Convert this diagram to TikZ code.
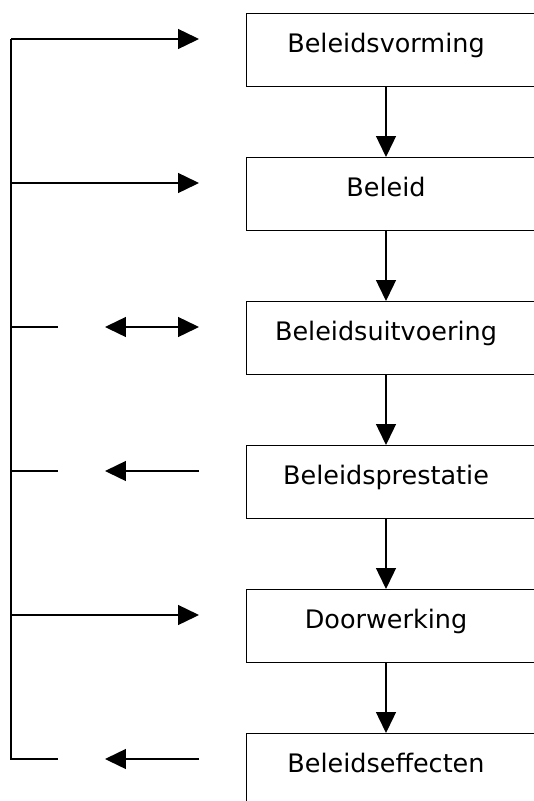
\documentclass[tikz,border=0pt]{standalone}
\usepackage{fontspec}
\setmainfont{DejaVu Sans}
\usetikzlibrary{arrows.meta}
\tikzset{
    blok/.style={
        draw,
        rectangle,
        line width=0.8pt,
        anchor=north west,
        minimum width=6.4cm,
        minimum height=1.46cm,
        inner sep=0pt
    },
    tekst/.style={
        anchor=base,
        inner sep=0pt,
        font=\fontsize{14.5}{16}\selectfont
    },
    lijn/.style={line width=0.8pt},
    pijl/.style={
        line width=0.8pt,
        -{Triangle[length=0.42cm, width=0.4cm]}
    },
    dubbelpijl/.style={
        line width=0.8pt,
        {Triangle[length=0.42cm, width=0.4cm]}-{Triangle[length=0.42cm, width=0.4cm]}
    }
}

\begin{document}
\begin{tikzpicture}[x=0.02cm, y=-0.02cm]
  \useasboundingbox (0,0) rectangle (534,801);
  \clip (0,0) rectangle (534,801);

  % Boxes on the right (cut off at the right edge)
  \node[blok] (b1) at (246,13) {};
  \node[tekst] (t1) at (386,52) {Beleidsvorming};
  \node[blok] (b2) at (246,157) {};
  \node[tekst] (t2) at (386,196) {Beleid};
  \node[blok] (b3) at (246,301) {};
  \node[tekst] (t3) at (386,340) {Beleidsuitvoering};
  \node[blok] (b4) at (246,445) {};
  \node[tekst] (t4) at (386,484) {Beleidsprestatie};
  \node[blok] (b5) at (246,589) {};
  \node[tekst] (t5) at (386,628) {Doorwerking};
  \node[blok] (b6) at (246,733) {};
  \node[tekst] (t6) at (386,772) {Beleidseffecten};

  % Chain from box to box
  \draw[pijl] (b1.south -| t1) -- (b2.north -| t2);
  \draw[pijl] (b2.south -| t2) -- (b3.north -| t3);
  \draw[pijl] (b3.south -| t3) -- (b4.north -| t4);
  \draw[pijl] (b4.south -| t4) -- (b5.north -| t5);
  \draw[pijl] (b5.south -| t5) -- (b6.north -| t6);

  % Points on the left line
  \coordinate (l1) at (11,39);
  \coordinate (l2) at (11,183);
  \coordinate (l3) at (11,327);
  \coordinate (l4) at (11,471);
  \coordinate (l5) at (11,615);
  \coordinate (l6) at (11,759);

  % Ends of the side arrows
  \coordinate (r1) at (199,39);
  \coordinate (r2) at (199,183);
  \coordinate (r3) at (199,327);
  \coordinate (r4) at (199,471);
  \coordinate (r5) at (199,615);
  \coordinate (r6) at (199,759);
  \coordinate (s3) at (58,327);
  \coordinate (s4) at (58,471);
  \coordinate (s6) at (58,759);
  \coordinate (p3) at (105,327);
  \coordinate (p4) at (105,471);
  \coordinate (p6) at (105,759);

  % Left feedback line
  \draw[lijn, line width=1pt] (l1) -- (l6) -- (s6);
  \draw[pijl] (l1) -- (r1);
  \draw[pijl] (l2) -- (r2);
  \draw[lijn] (l3) -- (s3);
  \draw[dubbelpijl] (p3) -- (r3);
  \draw[lijn] (l4) -- (s4);
  \draw[pijl] (r4) -- (p4);
  \draw[pijl] (l5) -- (r5);
  \draw[pijl] (r6) -- (p6);
\end{tikzpicture}
\end{document}
